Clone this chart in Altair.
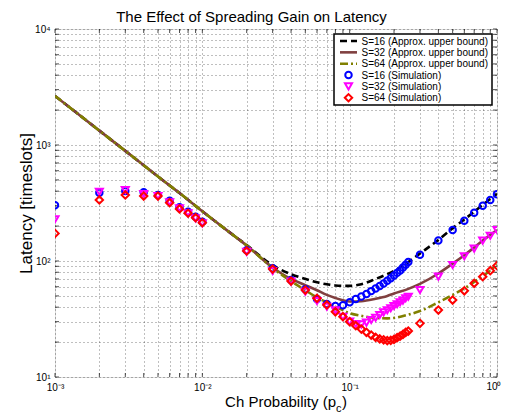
import altair as alt
import pandas as pd

# ---------------- data ----------------
P_SIM = [0.001, 0.002, 0.003, 0.004, 0.005, 0.006, 0.007, 0.008, 0.009, 0.01,
         0.02, 0.03, 0.04, 0.05, 0.06, 0.07, 0.08, 0.09, 0.10, 0.11, 0.12, 0.13,
         0.14, 0.15, 0.16, 0.17, 0.18, 0.19, 0.20, 0.21, 0.22, 0.23, 0.24, 0.25,
         0.3, 0.4, 0.5, 0.6, 0.7, 0.8, 0.9, 1.0]
SIM_S16 = [302, 388, 401, 391, 371, 331, 290, 266, 241, 218,
           124, 86.5, 68.6, 57, 47, 42.5, 41, 41.5, 44, 47, 49.5, 52,
           55, 58, 61, 64, 67.5, 71, 75, 79, 83, 88, 93, 98,
           113, 150, 185, 222, 261, 300, 336, 376]
SIM_S32 = [229, 395, 409, 378, 363, 321, 285, 258, 233, 211,
           120, 82, 66.4, 54.3, 45.2, 40.3, 37.5, 33.1, 30, 28.6, 28.4, 29.4,
           31, 32.4, 34.2, 36.1, 37.6, 39.1, 40.9, 42.4, 44.1, 45.5, 47.7, 49.2,
           56.2, 73.3, 92.4, 110, 128, 150, 165, 185]
SIM_S64 = [173, 336, 371, 363, 363, 318, 281, 258, 236, 214,
           122, 85.3, 67.2, 56.2, 47.7, 41.8, 36.5, 33.1, 30, 27.7, 25.9, 24.3,
           23, 22, 21.3, 20.9, 20.6, 20.7, 21.1, 21.8, 22.5, 23.3, 24.3, 24.9,
           29, 37.8, 46.1, 55.4, 64.2, 73.3, 82.6, 91.2]

P_LINE = [0.001, 0.002, 0.003, 0.005, 0.007, 0.01, 0.015, 0.02, 0.03, 0.04,
          0.05, 0.06, 0.07, 0.08, 0.1, 0.12, 0.15, 0.18, 0.2, 0.25, 0.3,
          0.4, 0.5, 0.6, 0.7, 0.8, 0.9, 1.0]
BOUND_S16 = [2650, 1330, 890, 535, 385, 268, 180, 137, 92, 77,
             70, 65.5, 63, 61.5, 61, 63, 70, 77, 82, 98, 116,
             152, 192, 228, 266, 305, 342, 380]
BOUND_S32 = [2650, 1330, 890, 535, 385, 268, 180, 136, 88, 70,
             62, 56, 51, 48, 44.8, 45, 47.2, 50, 52.5, 57.5, 63.5,
             78, 95, 112, 131, 150, 168, 185]
BOUND_S64 = [2650, 1330, 890, 535, 385, 268, 180, 136, 87, 67,
             56, 48.5, 44, 40.5, 35.5, 33.7, 32.3, 32, 32.3, 34.5, 37,
             44, 51, 58, 66, 74, 83, 93]

LINE_LABELS = ["S=16 (Approx. upper bound)", "S=32 (Approx. upper bound)",
               "S=64 (Approx. upper bound)"]
SIM_LABELS = ["S=16 (Simulation)", "S=32 (Simulation)", "S=64 (Simulation)"]
TITLE = "The Effect of Spreading Gain on Latency"
Y_TITLE = "Latency [timeslots]"
X_TITLE_MAIN = "Ch Probability (p"
X_TITLE_SUB = "c"
X_TITLE_END = ")"

X_TICK_LABELS = {0.001: "10⁻³", 0.01: "10⁻²", 0.1: "10⁻¹"}
X_LAST_LABEL = "10⁰"
Y_TICK_LABELS = {10: "10¹", 100: "10²", 1000: "10³", 10000: "10⁴"}

# ---------------- style ----------------
W, H = 442, 348
FONT = "Liberation Sans"
LINE_STYLES = [("#000000", [7, 4]), ("#804040", None), ("#808000", [8, 3, 2, 3])]
SIM_STYLES = [("#0000ff", "circle", 42), ("#ff00ff", "triangle-down", 50),
              ("#ff0000", "diamond", 55)]

x_grid = sorted({round(m * 10 ** e, 6) for e in (-3, -2, -1) for m in range(1, 10)} | {1.0})
y_grid = sorted({round(m * 10 ** e, 6) for e in (1, 2, 3) for m in range(1, 10)} | {10000.0})


def label_expr(mapping):
    parts = []
    for v, t in mapping.items():
        parts.append(f"abs(datum.value - {v}) < {v}*1e-6 ? '{t}'")
    return " : ".join(parts) + " : ''"


xscale = alt.Scale(type="log", domain=[0.001, 1])
yscale = alt.Scale(type="log", domain=[10, 10000])
xaxis = alt.Axis(values=x_grid, labelExpr=label_expr(X_TICK_LABELS), title=None,
                 grid=True, gridDash=[1, 3], gridColor="#000000", gridOpacity=0.5,
                 ticks=False, domain=False, labelFont=FONT, labelFontSize=10,
                 labelColor="#000000", labelPadding=5, labelOverlap=False,
                 labelFlush=False, labelBound=False)
yaxis = alt.Axis(values=y_grid, labelExpr=label_expr(Y_TICK_LABELS), title=None,
                 grid=True, gridDash=[1, 3], gridColor="#000000", gridOpacity=0.5,
                 ticks=False, domain=False, labelFont=FONT, labelFontSize=10,
                 labelColor="#000000", labelPadding=5, labelOverlap=False,
                 labelBound=False)


def X(field="p"):
    return alt.X(f"{field}:Q", scale=xscale, axis=xaxis)


def Y(field="L"):
    return alt.Y(f"{field}:Q", scale=yscale, axis=yaxis)


layers = []

# grid/axes carrier layer (invisible)
gdf = pd.DataFrame({"p": [0.001, 1.0], "L": [10, 10000]})
layers.append(alt.Chart(gdf).mark_point(opacity=0).encode(x=X(), y=Y()))

# inward ticks on all four sides
tx = pd.DataFrame({"p": x_grid})
ty = pd.DataFrame({"L": y_grid})
for ypix in (H - 2, 2):
    layers.append(alt.Chart(tx).mark_tick(color="#000000", thickness=1, size=4).encode(
        x=X(), y=alt.value(ypix)))
for xpix in (2, W - 2):
    layers.append(alt.Chart(ty).mark_tick(color="#000000", thickness=1, size=4).encode(
        y=Y(), x=alt.value(xpix)))

# bound curves
for vals, lab, (col, dash) in zip([BOUND_S16, BOUND_S32, BOUND_S64], LINE_LABELS, LINE_STYLES):
    df = pd.DataFrame({"p": P_LINE, "L": vals, "series": lab})
    kw = dict(color=col, strokeWidth=2.6, clip=True, interpolate="monotone")
    if dash:
        kw["strokeDash"] = dash
    layers.append(alt.Chart(df).mark_line(**kw).encode(x=X(), y=Y()))

# simulation markers
for vals, lab, (col, shp, sz) in zip([SIM_S16, SIM_S32, SIM_S64], SIM_LABELS, SIM_STYLES):
    df = pd.DataFrame({"p": P_SIM, "L": vals, "series": lab})
    layers.append(alt.Chart(df).mark_point(shape=shp, size=sz, color=col, filled=False,
                                           strokeWidth=2, opacity=1, clip=True).encode(
        x=X(), y=Y()))

# legend box
one = pd.DataFrame({"a": [0]})
LX0, LX1, LY0, LY1 = 279, 437, 5, 76
layers.append(alt.Chart(one).mark_rect(fill="white", stroke="black", strokeWidth=1.5).encode(
    x=alt.value(LX0), x2=alt.value(LX1), y=alt.value(LY0), y2=alt.value(LY1)))
row_y = [12 + 11.35 * i for i in range(6)]
for i, (lab, (col, dash)) in enumerate(zip(LINE_LABELS, LINE_STYLES)):
    kw = dict(color=col, strokeWidth=2.6)
    if dash:
        kw["strokeDash"] = dash
    layers.append(alt.Chart(one).mark_rule(**kw).encode(
        x=alt.value(285), x2=alt.value(302), y=alt.value(row_y[i])))
for j, (lab, (col, shp, sz)) in enumerate(zip(SIM_LABELS, SIM_STYLES)):
    layers.append(alt.Chart(one).mark_point(shape=shp, size=sz, color=col, filled=False,
                                            strokeWidth=2, opacity=1).encode(
        x=alt.value(293.5), y=alt.value(row_y[3 + j])))
for i, lab in enumerate(LINE_LABELS + SIM_LABELS):
    layers.append(alt.Chart(one).mark_text(align="left", baseline="middle", font=FONT,
                                           fontSize=10, color="black").encode(
        x=alt.value(306.5), y=alt.value(row_y[i] + 0.5), text=alt.value(lab)))

# last x tick label, kept inside the canvas
layers.append(alt.Chart(one).mark_text(align="right", baseline="top", font=FONT,
                                       fontSize=10, color="black").encode(
    x=alt.value(W + 4.5), y=alt.value(H + 5), text=alt.value(X_LAST_LABEL)))

# titles
layers.append(alt.Chart(one).mark_text(align="center", baseline="alphabetic", font=FONT,
                                       fontSize=15, color="black").encode(
    x=alt.value(196.5), y=alt.value(-7.5), text=alt.value(TITLE)))
layers.append(alt.Chart(one).mark_text(align="center", baseline="alphabetic", font=FONT,
                                       fontSize=17, color="black", angle=270).encode(
    x=alt.value(-23), y=alt.value(174.5), text=alt.value(Y_TITLE)))
layers.append(alt.Chart(one).mark_text(align="right", baseline="alphabetic", font=FONT,
                                       fontSize=15, color="black").encode(
    x=alt.value(281), y=alt.value(378), text=alt.value(X_TITLE_MAIN)))
layers.append(alt.Chart(one).mark_text(align="left", baseline="alphabetic", font=FONT,
                                       fontSize=11, color="black").encode(
    x=alt.value(281), y=alt.value(383), text=alt.value(X_TITLE_SUB)))
layers.append(alt.Chart(one).mark_text(align="left", baseline="alphabetic", font=FONT,
                                       fontSize=15, color="black").encode(
    x=alt.value(287), y=alt.value(378), text=alt.value(X_TITLE_END)))

chart = alt.layer(*layers).properties(
    width=W, height=H,
    autosize=alt.AutoSizeParams(type="none"),
    padding={"left": 47, "top": 21, "right": 5, "bottom": 36},
).configure_view(stroke="black", strokeWidth=1.5).configure(background="white")

chart.save("out.html", embed_options={"renderer": "svg", "actions": False})
